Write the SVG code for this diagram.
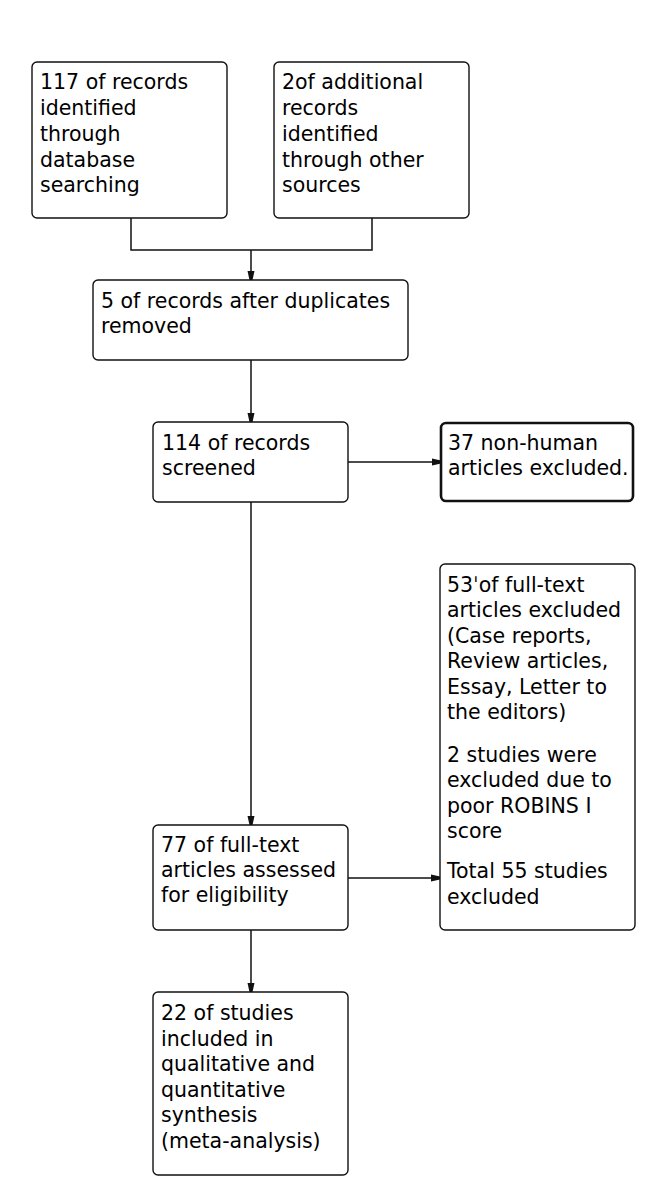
<svg xmlns="http://www.w3.org/2000/svg" width="656" height="1200" viewBox="0 0 656 1200">
<style>
.box{fill:#fff;stroke:#111;stroke-width:1.4}
.bold{stroke-width:2.6}
.t{font-family:"DejaVu Sans",sans-serif;font-size:20.5px;fill:#000}
.c{fill:none;stroke:#111;stroke-width:1.5}
</style>
<defs>
<marker id="ah" viewBox="0 0 9 9" refX="9" refY="4.5" markerWidth="9" markerHeight="9" markerUnits="userSpaceOnUse" orient="auto">
<path d="M0,1 L9,3 L9,6 L0,8 z" fill="#111"/>
</marker>
</defs>
<rect width="656" height="1200" fill="#fff"/>
<g id="connectors">
<path class="c" d="M131,218 V250 H372 V218"/>
<path class="c" d="M251,250 V280" marker-end="url(#ah)"/>
<path class="c" d="M251,360 V422" marker-end="url(#ah)"/>
<path class="c" d="M348,462 H441" marker-end="url(#ah)"/>
<path class="c" d="M251,502 V825" marker-end="url(#ah)"/>
<path class="c" d="M348,878 H440" marker-end="url(#ah)"/>
<path class="c" d="M251,930 V992" marker-end="url(#ah)"/>
</g>
<g id="n1">
<rect class="box" x="32" y="62" width="195" height="156" rx="5"/>
<text class="t" x="40" y="89">117 of records</text>
<text class="t" x="40" y="115">identified</text>
<text class="t" x="40" y="141">through</text>
<text class="t" x="40" y="167">database</text>
<text class="t" x="40" y="192">searching</text>
</g>
<g id="n2">
<rect class="box" x="274" y="62" width="195" height="156" rx="5"/>
<text class="t" x="282" y="89">2of additional</text>
<text class="t" x="282" y="115">records</text>
<text class="t" x="282" y="141">identified</text>
<text class="t" x="282" y="167">through other</text>
<text class="t" x="282" y="192">sources</text>
</g>
<g id="n3">
<rect class="box" x="93" y="280" width="315" height="80" rx="5"/>
<text class="t" x="101" y="308">5 of records after duplicates</text>
<text class="t" x="101" y="333">removed</text>
</g>
<g id="n4">
<rect class="box" x="153" y="422" width="195" height="80" rx="5"/>
<text class="t" x="162" y="450">114 of records</text>
<text class="t" x="162" y="475">screened</text>
</g>
<g id="n5">
<rect class="box bold" x="441" y="423" width="192" height="78" rx="5"/>
<text class="t" x="448" y="450">37 non-human</text>
<text class="t" x="448" y="475">articles excluded.</text>
</g>
<g id="n6">
<rect class="box" x="153" y="825" width="195" height="105" rx="5"/>
<text class="t" x="161" y="852">77 of full-text</text>
<text class="t" x="161" y="877">articles assessed</text>
<text class="t" x="161" y="902">for eligibility</text>
</g>
<g id="n7">
<rect class="box" x="440" y="564" width="195" height="366" rx="5"/>
<text class="t" x="447" y="592">53ˈof full-text</text>
<text class="t" x="447" y="617">articles excluded</text>
<text class="t" x="447" y="643">(Case reports,</text>
<text class="t" x="447" y="668">Review articles,</text>
<text class="t" x="447" y="694">Essay, Letter to</text>
<text class="t" x="447" y="719">the editors)</text>
<text class="t" x="447" y="762">2 studies were</text>
<text class="t" x="447" y="787">excluded due to</text>
<text class="t" x="447" y="813">poor ROBINS I</text>
<text class="t" x="447" y="838">score</text>
<text class="t" x="447" y="878">Total 55 studies</text>
<text class="t" x="447" y="904">excluded</text>
</g>
<g id="n8">
<rect class="box" x="153" y="992" width="195" height="183" rx="5"/>
<text class="t" x="161" y="1020">22 of studies</text>
<text class="t" x="161" y="1046">included in</text>
<text class="t" x="161" y="1071">qualitative and</text>
<text class="t" x="161" y="1097">quantitative</text>
<text class="t" x="161" y="1122">synthesis</text>
<text class="t" x="161" y="1148">(meta-analysis)</text>
</g>
</svg>
